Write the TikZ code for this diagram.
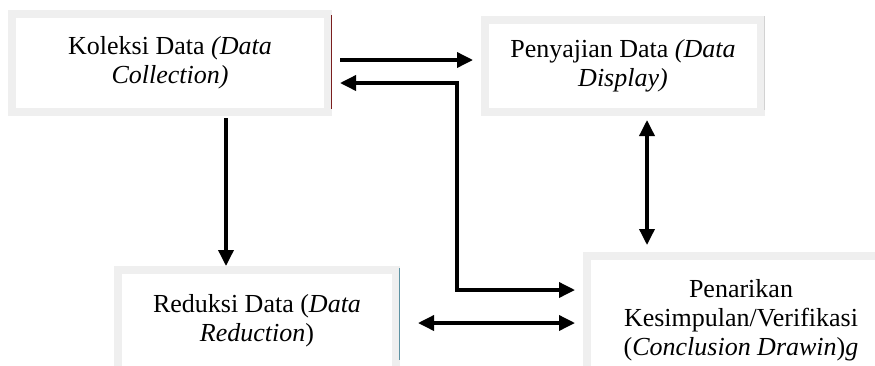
\documentclass[tikz,border=0pt]{standalone}
\usepackage{fontspec}
\setmainfont{Liberation Serif}
\usetikzlibrary{arrows.meta}
\definecolor{boxgray}{HTML}{EFEFEF}
\definecolor{edgered}{HTML}{7A1E1E}
\definecolor{edgeteal}{HTML}{5E93A3}
\definecolor{edgegray}{HTML}{D2D2D2}
\tikzset{
	box/.style={draw=boxgray, line width=8pt, fill=white, inner sep=0pt, align=center, font=\fontsize{26}{29}\selectfont},
	arr/.style={line width=3.5pt, -{Triangle[length=16pt,width=15pt]}},
	darr/.style={line width=3.5pt, {Triangle[length=16pt,width=15pt]}-{Triangle[length=16pt,width=15pt]}}
}
\begin{document}
\begin{tikzpicture}[x=1pt,y=-1pt]
			\useasboundingbox (0,0) rectangle (875,365);
			\clip (0,0) rectangle (875,365);
			\node[box, minimum width=316pt, minimum height=98pt] (koleksi) at (170,63) {Koleksi Data \textit{(Data}\\\textit{Collection)}};
			\node[box, minimum width=276pt, minimum height=92pt] (penyajian) at (623,66) {Penyajian Data \textit{(Data}\\\textit{Display)}};
			\node[box, minimum width=278pt, minimum height=102pt] (reduksi) at (257,321) {Reduksi Data (\textit{Data}\\\textit{Reduction})};
			\node[box, minimum width=308pt, minimum height=128pt] (penarikan) at (741,320) {Penarikan\\Kesimpulan/Verifikasi\\(\textit{Conclusion Drawin})\textit{g}};
			%thin edges on the right
			\draw[edgered, line width=1pt] ([xshift=-0.5pt,yshift=-5pt]koleksi.north east) -- ([xshift=-0.5pt,yshift=7pt]koleksi.south east);
			\draw[edgegray, line width=1pt] ([xshift=-0.5pt]penyajian.north east) -- ([xshift=-0.5pt,yshift=6pt]penyajian.south east);
			\draw[edgeteal, line width=1pt] ([xshift=-0.5pt,yshift=-2pt]reduksi.north east) -- ([xshift=-0.5pt,yshift=16pt]reduksi.south east);
			\coordinate (turn) at (457,83);
			\draw[arr] ([xshift=8pt,yshift=3pt]koleksi.east) -- ([xshift=-8pt,yshift=6pt]penyajian.west);
			\draw[darr] ([xshift=-8pt,yshift=30pt]penarikan.west) -| (turn) -- ([xshift=8pt,yshift=-20pt]koleksi.east);
			\draw[arr] ([xshift=56pt,yshift=-2pt]koleksi.south) -- ([xshift=-31pt]reduksi.north);
			\draw[darr] ([xshift=18pt,yshift=-2pt]reduksi.east) -- ([xshift=-8pt,yshift=-3pt]penarikan.west);
			\draw[darr] ([xshift=24pt,yshift=-4pt]penyajian.south) -- ([xshift=-94pt,yshift=7pt]penarikan.north);
		\end{tikzpicture}
\end{document}
